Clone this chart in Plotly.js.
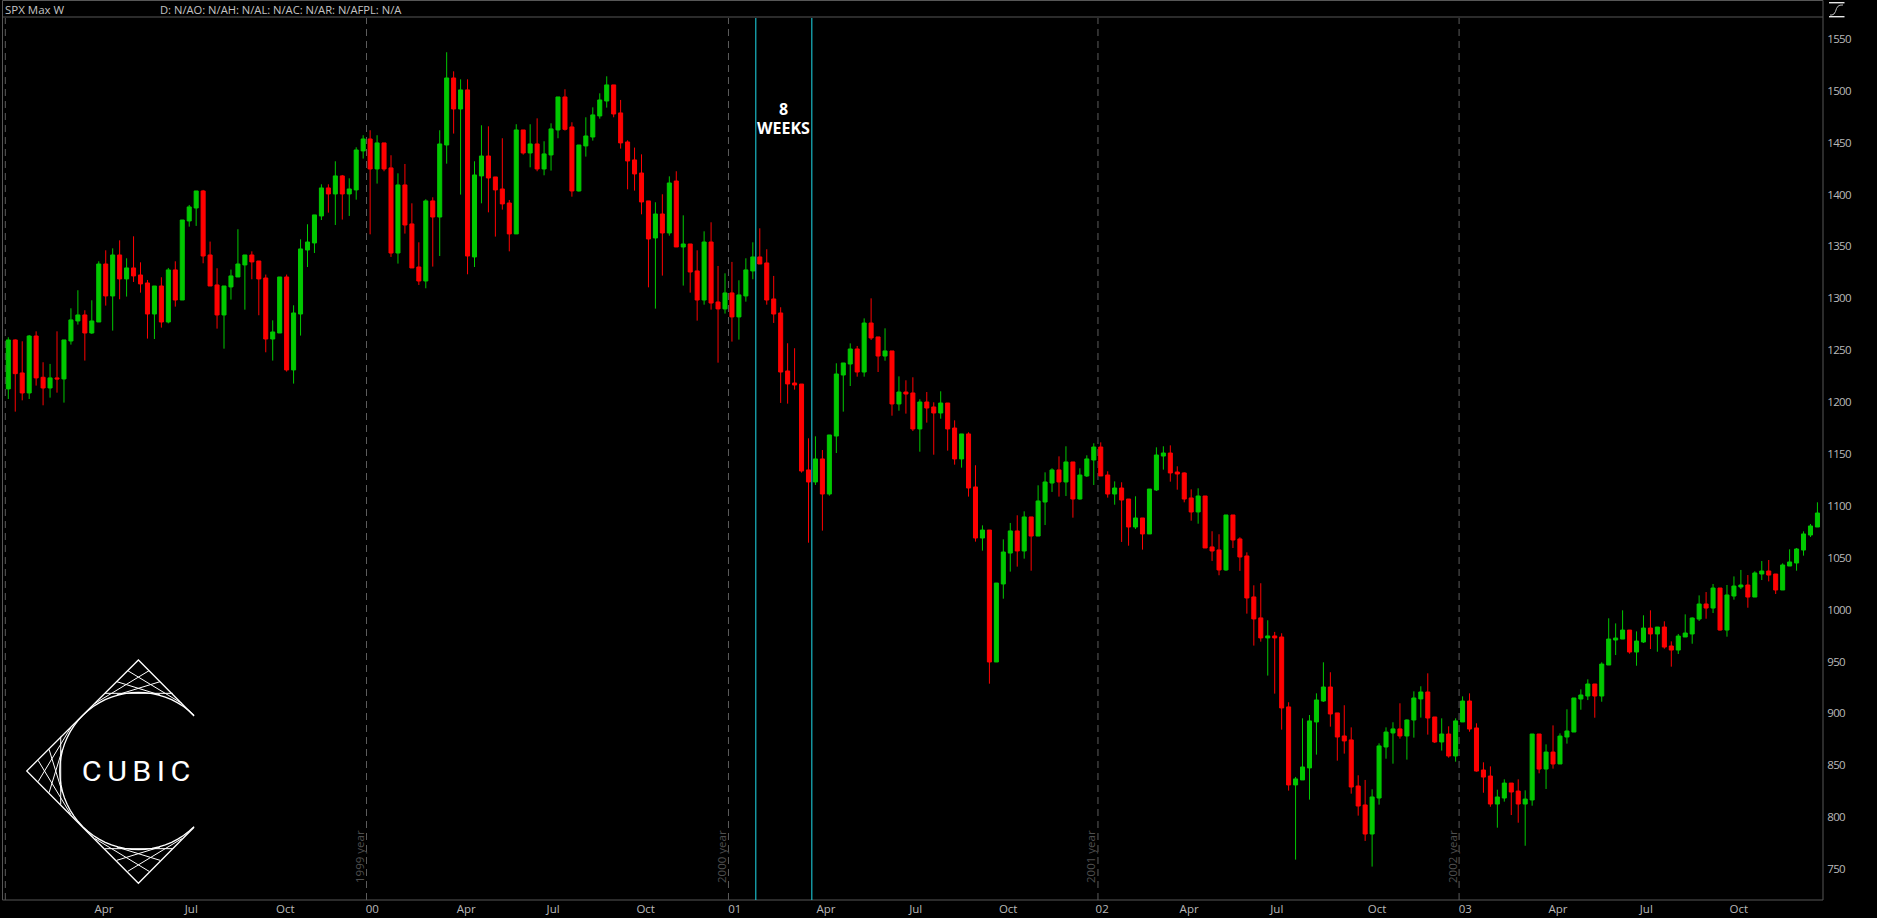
<!DOCTYPE html>
<html>
<head>
<meta charset="utf-8">
<script src="https://cdn.plot.ly/plotly-3.0.1.min.js"></script>
<style>
html,body{margin:0;padding:0;background:#000;overflow:hidden}
#chart{width:1877px;height:918px}
g.annotation[data-index="0"] text{letter-spacing:5px}
.ytick text{letter-spacing:-.7px}
</style>
</head>
<body>
<div id="chart"></div>
<script>
const openPrices=[1212.7,1259.9,1228.1,1208.8,1263.7,1223.9,1213.6,1223.3,1222.3,1258.9,
1278.2,1284.0,1266.6,1277.2,1333.1,1302.3,1341.8,1318.7,1329.3,1322.5,
1314.8,1284.9,1311.9,1277.2,1327.4,1298.4,1374.6,1387.1,1403.5,1341.8,
1312.9,1284.0,1311.0,1320.6,1332.2,1341.8,1336.0,1319.6,1260.8,1266.6,
1320.6,1231.0,1284.9,1346.6,1353.4,1379.4,1406.4,1400.6,1418.0,1400.6,
1404.5,1442.1,1453.6,1424.7,1449.8,1425.7,1343.7,1409.3,1371.7,1330.2,
1316.7,1393.9,1378.4,1447.8,1512.4,1482.5,1500.9,1339.9,1418.0,1437.2,
1417.0,1405.4,1391.9,1362.1,1462.3,1440.1,1448.8,1424.7,1438.2,1462.3,
1494.1,1465.2,1403.5,1446.9,1455.5,1475.8,1490.2,1505.7,1478.7,1450.7,
1433.4,1420.8,1393.9,1358.2,1381.3,1363.0,1413.1,1349.5,1352.4,1326.4,
1298.4,1354.3,1296.5,1289.8,1305.2,1282.1,1302.3,1326.4,1339.9,1334.1,
1299.4,1285.9,1230.0,1218.4,1217.4,1134.6,1123.0,1145.2,1111.4,1167.3,
1226.1,1236.7,1251.2,1229.0,1276.2,1262.8,1244.4,1249.3,1198.2,1209.7,
1208.8,1174.1,1200.1,1195.3,1189.5,1199.1,1175.0,1145.2,1169.3,1118.2,
1069.0,1076.7,949.5,1024.7,1054.5,1075.8,1056.5,1089.3,1070.9,1103.7,
1122.0,1134.6,1123.0,1142.3,1106.6,1128.8,1144.2,1156.7,1129.7,1111.4,
1117.2,1106.6,1079.6,1088.3,1072.9,1115.3,1148.0,1150.9,1132.6,1131.7,
1107.6,1094.1,1109.5,1060.4,1057.5,1038.2,1091.2,1068.1,1051.7,1012.2,
992.0,972.7,974.6,973.6,906.2,831.0,835.8,847.4,891.7,911.9,
925.4,900.4,878.2,874.4,830.0,811.7,783.7,818.4,867.6,881.1,
885.0,878.2,893.6,913.9,920.6,896.5,872.4,880.1,858.9,891.7,
911.9,885.9,845.4,839.6,812.6,818.4,832.8,825.1,812.6,816.5,
880.1,846.3,862.7,851.2,877.2,882.0,913.8,916.7,928.3,916.7,
946.6,970.7,971.6,980.3,959.1,968.8,982.2,976.5,983.2,964.9,
961.0,973.6,976.5,990.9,1005.4,1001.5,1020.8,980.3,1013.1,1021.8,
1023.7,1012.1,1034.3,1037.2,1034.3,1018.9,1042.0,1044.9,1057.4,1071.9,1079.6];
const highPrices=[1262.5,1260.5,1258.6,1264.7,1268.2,1238.4,1236.8,1268.2,1259.9,1290.4,
1307.8,1288.5,1298.1,1335.7,1346.3,1348.2,1355.9,1338.6,1359.8,1334.7,
1317.7,1311.9,1320.3,1329.3,1335.7,1375.5,1390.0,1403.5,1404.5,1354.7,
1329.0,1311.9,1327.7,1366.6,1341.8,1345.3,1336.0,1322.9,1278.8,1320.6,
1322.9,1293.3,1356.9,1371.4,1380.4,1409.9,1409.9,1432.1,1418.9,1415.7,
1445.6,1457.2,1462.0,1457.2,1449.8,1437.9,1420.5,1429.5,1391.6,1354.0,
1395.5,1397.4,1462.0,1537.2,1518.8,1511.1,1511.1,1432.1,1466.8,1465.8,
1417.0,1454.3,1394.8,1467.8,1462.3,1467.8,1473.5,1451.4,1468.7,1494.1,
1501.5,1469.7,1447.8,1474.5,1484.1,1497.6,1514.0,1505.7,1491.2,1452.3,
1445.3,1438.8,1393.9,1392.6,1400.3,1417.6,1422.5,1380.0,1352.4,1346.3,
1364.6,1373.3,1331.2,1324.1,1335.1,1317.4,1338.6,1354.0,1367.5,1347.3,
1321.6,1291.4,1256.7,1251.9,1217.4,1165.1,1167.0,1153.8,1168.3,1237.4,
1237.7,1256.6,1254.1,1280.7,1300.0,1262.8,1271.1,1249.3,1224.8,1221.0,
1223.9,1202.7,1209.7,1199.8,1210.4,1199.1,1182.4,1169.3,1170.9,1139.1,
1081.2,1076.7,1025.6,1067.7,1083.5,1090.9,1094.7,1089.3,1119.8,1132.3,
1136.2,1147.7,1157.4,1142.3,1136.2,1148.7,1160.3,1161.2,1133.3,1123.6,
1122.7,1106.6,1109.2,1088.3,1116.2,1156.4,1157.4,1158.3,1138.1,1132.3,
1115.9,1116.9,1109.5,1075.5,1072.6,1091.2,1091.2,1069.7,1055.2,1023.4,
1025.4,989.7,978.5,977.2,910.7,838.7,895.2,898.4,919.3,949.2,
939.6,900.4,907.8,886.5,840.3,835.8,826.8,871.1,886.5,891.4,
909.7,894.2,921.2,926.1,938.6,896.5,895.2,887.5,895.2,916.4,
919.3,890.4,852.8,848.9,826.4,836.4,832.8,836.4,825.8,880.1,
880.1,870.1,888.4,880.7,903.9,914.8,923.1,932.8,928.3,949.2,
991.6,986.7,999.3,980.3,979.0,994.5,999.3,983.2,988.7,969.4,
976.5,995.4,992.5,1013.7,1016.9,1024.7,1020.8,1023.7,1032.0,1038.2,
1033.3,1036.9,1046.8,1047.8,1034.3,1044.6,1058.1,1059.4,1075.4,1082.5,1103.4];
const lowPrices=[1203.0,1190.8,1201.7,1203.0,1215.9,1196.9,1204.3,1209.1,1199.5,1255.4,
1274.7,1240.0,1265.7,1277.2,1293.0,1268.9,1299.1,1301.7,1315.8,1305.5,
1261.2,1260.8,1271.8,1275.9,1292.0,1298.4,1369.1,1369.8,1333.8,1311.9,
1270.8,1251.5,1298.8,1320.6,1289.1,1318.4,1283.7,1248.0,1240.0,1266.6,
1229.4,1217.8,1264.1,1330.2,1343.7,1375.5,1382.6,1370.7,1375.9,1379.4,
1395.1,1434.7,1361.7,1410.6,1422.5,1339.9,1333.5,1362.4,1329.3,1312.9,
1309.7,1330.6,1340.8,1429.8,1458.8,1400.0,1323.2,1330.2,1391.6,1382.9,
1359.5,1385.5,1345.3,1362.1,1438.5,1426.3,1422.5,1418.6,1423.1,1454.3,
1461.7,1398.0,1402.9,1436.6,1452.0,1473.2,1483.8,1474.5,1444.3,1405.1,
1403.8,1381.0,1310.6,1290.1,1321.9,1360.4,1349.5,1312.3,1305.5,1278.5,
1293.9,1289.1,1238.0,1285.3,1258.3,1260.2,1296.8,1318.4,1333.1,1293.9,
1276.3,1199.2,1198.5,1212.0,1132.0,1064.5,1120.1,1076.1,1109.8,1150.9,
1190.8,1215.5,1224.5,1224.5,1259.9,1229.0,1239.9,1186.9,1191.7,1188.9,
1172.1,1152.2,1180.2,1149.3,1184.0,1153.2,1139.7,1136.8,1108.9,1065.5,
1056.8,928.6,949.5,1010.5,1036.6,1041.4,1049.1,1037.5,1070.9,1081.5,
1113.4,1108.9,1109.5,1088.6,1106.0,1127.8,1120.1,1128.8,1107.9,1101.1,
1065.2,1061.6,1077.7,1057.8,1072.9,1114.3,1134.9,1123.3,1115.6,1103.4,
1085.7,1082.8,1059.4,1046.9,1033.1,1037.3,1059.4,1037.3,996.1,965.3,
969.1,936.4,919.0,884.3,825.5,759.0,835.8,816.8,860.2,911.0,
887.2,854.4,861.2,822.6,801.4,777.0,752.3,812.0,856.3,851.5,
875.6,855.4,876.6,895.9,879.5,871.4,864.1,857.3,853.4,891.7,
882.3,843.8,823.5,810.0,789.8,814.9,802.0,794.6,772.4,811.0,
842.2,827.1,846.7,851.2,870.8,882.0,903.5,912.8,895.8,911.2,
946.6,956.2,971.6,957.5,945.9,967.8,962.0,959.4,962.3,945.0,
957.2,973.6,967.1,989.0,991.2,996.7,979.7,973.9,1009.6,1019.8,
1001.8,1012.1,1028.5,1027.2,1015.0,1018.9,1042.0,1037.5,1052.0,1070.0,1079.6];
const closePrices=[1259.9,1227.4,1208.8,1263.7,1223.3,1213.6,1223.3,1222.3,1259.9,1279.2,
1284.0,1266.6,1278.2,1333.1,1302.3,1341.8,1318.7,1329.3,1321.6,1313.9,
1284.9,1311.9,1277.2,1327.4,1298.4,1375.5,1388.1,1403.5,1340.8,1311.9,
1284.0,1311.9,1321.6,1333.1,1341.8,1335.1,1318.7,1260.8,1267.6,1320.6,
1231.0,1285.9,1347.6,1354.3,1380.4,1406.4,1400.6,1418.0,1400.6,1405.4,
1443.0,1453.6,1424.7,1449.8,1424.7,1343.7,1409.3,1370.7,1329.3,1316.7,
1393.9,1378.4,1448.8,1512.4,1482.5,1500.9,1340.8,1418.9,1437.2,1416.0,
1404.5,1391.0,1362.1,1462.3,1440.1,1448.8,1424.7,1439.2,1463.3,1494.1,
1462.9,1403.5,1447.8,1456.5,1476.8,1491.2,1505.7,1477.7,1449.8,1432.4,
1419.9,1392.9,1357.2,1381.3,1363.0,1411.2,1349.5,1352.4,1325.4,1298.4,
1354.3,1295.5,1289.8,1305.2,1282.1,1303.3,1327.4,1339.9,1333.1,1298.4,
1284.9,1229.0,1217.5,1216.5,1133.6,1123.0,1145.2,1111.4,1168.3,1227.1,
1237.7,1251.2,1229.0,1276.2,1261.8,1244.4,1249.3,1198.2,1209.7,1207.8,
1174.1,1200.1,1194.3,1189.5,1199.1,1174.1,1145.2,1169.3,1117.2,1069.0,
1076.7,949.5,1025.6,1055.5,1075.8,1056.5,1089.3,1070.9,1104.7,1123.0,
1134.6,1123.0,1142.3,1106.6,1129.7,1145.2,1156.7,1128.8,1111.4,1117.2,
1105.6,1079.6,1088.3,1072.9,1116.2,1149.0,1150.9,1131.7,1130.7,1106.6,
1094.1,1109.5,1059.4,1056.5,1038.2,1091.2,1067.1,1050.7,1011.2,991.0,
972.7,974.6,972.7,905.2,831.0,836.8,848.3,892.7,912.9,925.4,
899.4,877.2,873.4,829.0,810.7,783.7,819.4,868.6,882.0,885.0,
878.2,893.6,914.8,920.6,895.5,872.4,880.1,858.9,892.7,911.9,
884.9,844.4,838.6,812.6,819.4,832.8,824.2,812.6,817.4,880.1,
846.3,862.7,851.2,878.1,883.0,914.8,917.7,928.3,916.7,947.5,
971.6,972.6,980.3,959.1,969.7,982.2,976.5,983.2,963.9,961.0,
974.5,977.4,991.9,1005.4,1001.5,1020.8,980.3,1014.1,1022.7,1023.7,
1012.1,1035.3,1037.2,1033.3,1018.9,1043.0,1045.9,1058.4,1072.9,1080.6,1093.1];

const xTickWeeks=[13.75,26.3,39.8,52.3,65.8,78.3,91.6,104.4,117.5,130.4,143.7,157.2,169.7,182.3,196.7,209.4,222.7,235.4,248.7];
const xTickLabels=["Apr","Jul","Oct","00","Apr","Jul","Oct","01","Apr","Jul","Oct","02","Apr","Jul","Oct","03","Apr","Jul","Oct"];
const yTicks=[750,800,850,900,950,1000,1050,1100,1150,1200,1250,1300,1350,1400,1450,1500,1550];
const yearLineWeeks=[-0.43,51.48,103.5,156.6,208.5];
const yearLabels=["1999 year","2000 year","2001 year","2002 year"];
const markerWeeks=[107.43,115.48];

/* page geometry: plot box in screen pixels */
const L=3,R=1823,T=18,B=900,W=1877,H=918;
const px=x=>(x-L)/(R-L), py=y=>(B-y)/(B-T);
const weeks=openPrices.map((_,i)=>i);

const GREY='#575757';
const shapes=[];
function seg(pts,color,width,dash){
  const d=pts.map((p,i)=>(i?'L':'M')+px(p[0]).toFixed(5)+','+py(p[1]).toFixed(5)).join(' ');
  shapes.push({type:'path',xref:'paper',yref:'paper',path:d,line:{color:color,width:width,dash:dash||'solid'},layer:'above'});
}
/* frame */
seg([[2.5,0.5],[R,0.5]],GREY,1);
seg([[2.5,T-1],[R,T-1]],GREY,1);
seg([[2.5,0.5],[2.5,B]],GREY,1);
seg([[2.5,B],[R,B]],GREY,1);
seg([[R,0.5],[R,B]],GREY,1);
/* year separators */
yearLineWeeks.forEach(w=>shapes.push({type:'line',xref:'x',yref:'paper',x0:w,x1:w,y0:0,y1:1,layer:'below',line:{color:'#5c5c5c',width:1,dash:'7px,5px'}}));
/* eight-week window */
markerWeeks.forEach(w=>shapes.push({type:'line',xref:'x',yref:'paper',x0:w,x1:w,y0:0,y1:1,layer:'above',line:{color:'#1fdcec',width:1}}));
/* top-right icon */
seg([[1829,2.7],[1844.5,2.7]],'#e8e8e8',1.4);
seg([[1829,16.7],[1844.5,16.7]],'#e8e8e8',1.4);
seg([[1830,15],[1832,15],[1834,14],[1835.5,11.5],[1836.5,8.5],[1838,6.2],[1840,5.2],[1843,5]],'#cfcfcf',0.9);
/* logo */
const cx=138.4,cy=771,lw=1.3;
const lg=(a,b)=>[cx+a/3,cy+b/3];
seg([lg(167,-165),lg(0,-333),lg(-335,0),lg(0,337),lg(167,169)],'#fff',lw);
const arc=[];
for(let a=-45;a>=-315;a-=5){const r=a*Math.PI/180;arc.push(lg(236*Math.cos(r),236*Math.sin(r)));}
seg(arc,'#fff',lw);
const cornerLines=[[-32,-301,130,-203],[32,-301,-130,-203],[-65,-268,65,-228],[65,-268,-65,-228],[-100,-233,103,-233]];
cornerLines.forEach(c=>{
  seg([lg(c[0],c[1]),lg(c[2],c[3])],'#fff',1);              /* top */
  seg([lg(c[0],-c[1]),lg(c[2],-c[3])],'#fff',1);            /* bottom */
  seg([lg(c[1],-c[0]),lg(c[3],-c[2])],'#fff',1);            /* left */
});

const note=(text,x,y,opts)=>Object.assign({text:text,xref:'paper',yref:'paper',x:px(x),y:py(y),showarrow:false,xanchor:'left',yanchor:'middle',font:{family:'"Open Sans"',size:11.5,color:'#c4c4c4'}},opts||{});
const annotations=[
  note('CUBIC',139,771,{xanchor:'center',font:{family:'Roboto',size:28,color:'#fff',weight:400}}),
  note('SPX Max W',3,9),
  note('D: N/AO: N/AH: N/AL: N/AC: N/AR: N/AFPL: N/A',158,9,{font:{family:'"Open Sans"',size:11.2,color:'#c4c4c4'}}),
  note('8',783.3,109,{xanchor:'center',font:{family:'"Open Sans"',size:16,color:'#fff',weight:700}}),
  note('WEEKS',783.3,128,{xanchor:'center',font:{family:'"Open Sans"',size:16,color:'#fff',weight:700}})
];
yearLabels.forEach((t,i)=>{
  const x=[359,721,1090,1452][i];
  annotations.push(note(t,x,857,{xanchor:'center',textangle:-90,font:{family:'"Open Sans"',size:11.5,color:'#4f4f4f'}}));
});

const trace={type:'candlestick',x:weeks,open:openPrices,high:highPrices,low:lowPrices,close:closePrices,
  whiskerwidth:0,hoverinfo:'skip',
  increasing:{line:{color:'#00c800',width:1},fillcolor:'#00c800'},
  decreasing:{line:{color:'#ff0000',width:1},fillcolor:'#ff0000'}};

const layout={width:W,height:H,paper_bgcolor:'#000',plot_bgcolor:'#000',showlegend:false,boxgap:0.42,boxgroupgap:0,
  margin:{l:L,r:W-R,t:T,b:H-B,pad:0},
  xaxis:{type:'linear',range:[-0.762,260.8],rangeslider:{visible:false},showgrid:false,zeroline:false,showline:false,
    tickmode:'array',tickvals:xTickWeeks,ticktext:xTickLabels,ticks:'',tickangle:0,
    tickfont:{family:'"Open Sans"',size:11.5,color:'#b9b9b9'},fixedrange:true},
  yaxis:{side:'right',range:[720.1,1570.2],showgrid:false,zeroline:false,showline:false,
    tickmode:'array',tickvals:yTicks,ticktext:yTicks.map(String),ticks:'outside',ticklen:1,tickcolor:'rgba(0,0,0,0)',
    tickfont:{family:'"Open Sans"',size:11.5,color:'#b9b9b9'},fixedrange:true},
  shapes:shapes,annotations:annotations};
Plotly.newPlot('chart',[trace],layout,{displayModeBar:false,staticPlot:true}).then(()=>{
  const t=document.querySelector('g.annotation[data-index="0"] text');
  if(t){t.setAttribute('textLength','114');t.setAttribute('lengthAdjust','spacingAndGlyphs');}
});
</script>
</body>
</html>
